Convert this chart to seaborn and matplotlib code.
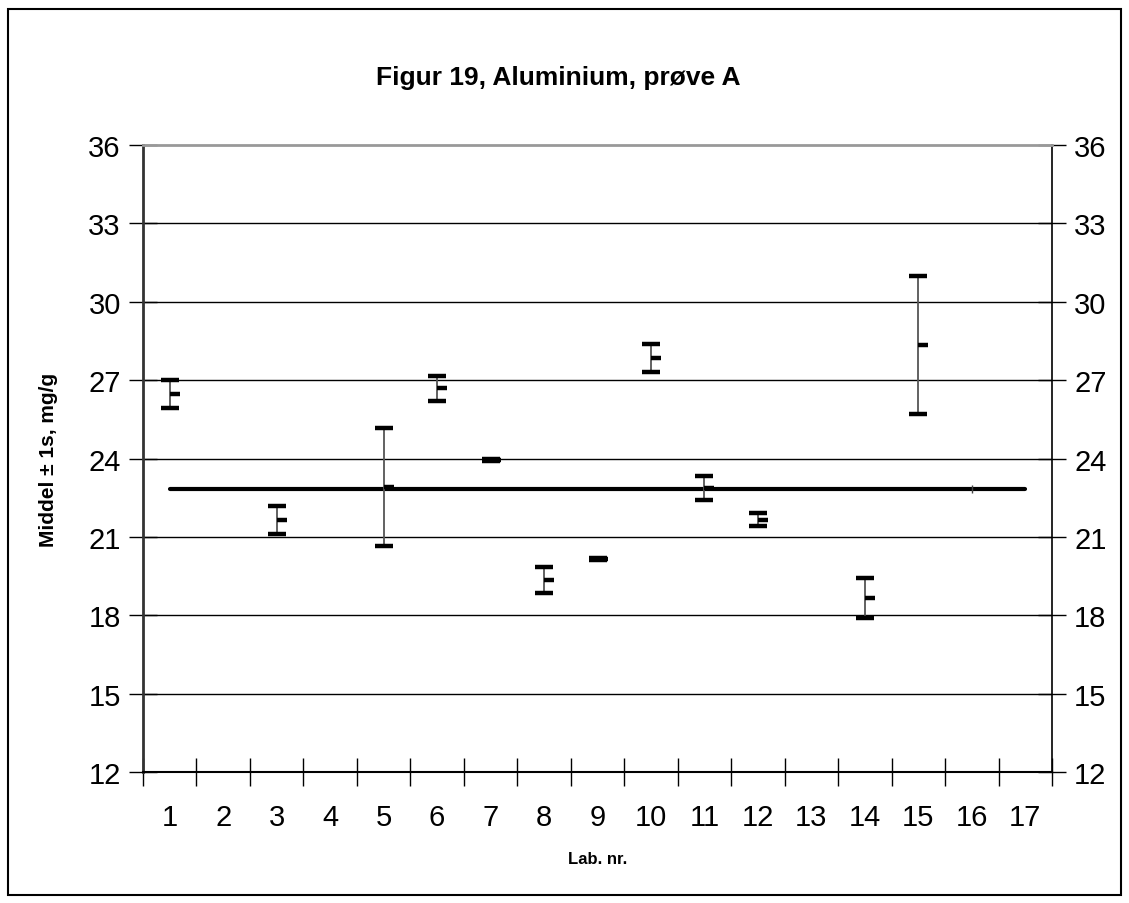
import matplotlib
matplotlib.use('Agg')
import matplotlib.pyplot as plt
from matplotlib.patches import Rectangle
import seaborn as sns
import pandas as pd

# lab numbers on the x axis
lab_labels = [str(i) for i in range(1, 18)]

# labs with a result, their mean and 1 s
labs = [1, 3, 5, 6, 7, 8, 9, 10, 11, 12, 14, 15, 16]
means = [26.47, 21.64, 22.90, 26.69, 23.94, 19.36, 20.15, 27.84, 22.87, 21.65, 18.65, 28.33, 22.83]
sds = [0.54, 0.53, 2.26, 0.47, 0.05, 0.50, 0.05, 0.53, 0.46, 0.25, 0.77, 2.64, 0.0]

# overall mean line
overall_mean = 22.83
y_ticks = [12, 15, 18, 21, 24, 27, 30, 33, 36]

df = pd.DataFrame({'lab': labs, 'mean': means, 'sd': sds})
df['lo'] = df['mean'] - df['sd']
df['hi'] = df['mean'] + df['sd']

sns.set_theme(style='white')
plt.rcParams['font.family'] = ['Liberation Sans', 'DejaVu Sans']
plt.rcParams['text.color'] = 'black'
plt.rcParams['axes.labelcolor'] = 'black'
plt.rcParams['xtick.color'] = 'black'
plt.rcParams['ytick.color'] = 'black'

fig = plt.figure(figsize=(11.29, 9.04), dpi=100)
ax = fig.add_axes([143 / 1129, 1 - 773 / 904, (1052 - 143) / 1129, (773 - 146) / 904])

# horizontal grid
for v in y_ticks[1:-1]:
    ax.axhline(v, color='black', lw=1.0, zorder=1)

# mean line across all labs
line_df = pd.DataFrame({'lab': [1, 17], 'val': [overall_mean, overall_mean]})
sns.lineplot(data=line_df, x='lab', y='val', ax=ax, color='black', lw=3.0,
             solid_capstyle='round', zorder=3)

# +-1s bars (lab 16 has no spread, only a small tick on the mean line)
bars = df[df['sd'] > 0]
ax.vlines(bars['lab'], bars['lo'], bars['hi'], color='#555555', lw=1.3, zorder=4)
ax.plot(bars['lab'], bars['hi'], ls='none', marker='_', ms=13, mew=3.2, color='black', zorder=5)
ax.plot(bars['lab'], bars['lo'], ls='none', marker='_', ms=13, mew=3.2, color='black', zorder=5)
ax.plot(bars['lab'], bars['mean'], ls='none', marker=1, ms=7, mew=3.2, color='black', zorder=5)
flat = df[df['sd'] == 0]
ax.plot(flat['lab'], flat['mean'], ls='none', marker='|', ms=6, mew=1, color='#444444', zorder=5)

ax.set_xlim(0.5, 17.5)
ax.set_ylim(12, 36)
ax.set_yticks(y_ticks)
ax.set_xticks(range(1, 18))
ax.set_xticklabels(lab_labels)
ax.set_xticks([i + 0.5 for i in range(0, 18)], minor=True)

ax.tick_params(axis='x', which='major', length=0, pad=22, labelsize=21)
ax.tick_params(axis='x', which='minor', direction='inout', length=20, width=1, color='black', bottom=True)
ax.tick_params(axis='y', which='major', direction='inout', length=20, width=1, color='black',
               left=True, right=True, labelleft=True, labelright=True, labelsize=21, pad=6)

for s in ['left', 'right', 'bottom', 'top']:
    ax.spines[s].set_visible(True)
ax.spines['left'].set_color('#333333')
ax.spines['left'].set_linewidth(2)
ax.spines['right'].set_color('black')
ax.spines['right'].set_linewidth(1.2)
ax.spines['bottom'].set_color('black')
ax.spines['bottom'].set_linewidth(1.5)
ax.spines['top'].set_color('#999999')
ax.spines['top'].set_linewidth(2)

ax.set_xlabel('Lab. nr.', fontsize=12, fontweight='bold', labelpad=15)
ax.set_ylabel('Middel ± 1s, mg/g', fontsize=15, fontweight='bold', labelpad=22)

fig.text(558 / 1129, 1 - 78 / 904, 'Figur 19, Aluminium, prøve A', ha='center', va='center',
         fontsize=19, fontweight='bold')

fig.patches.append(Rectangle((8 / 1129, 8 / 904), (1121 - 8) / 1129, (896 - 10) / 904,
                             transform=fig.transFigure, fill=False, edgecolor='black', lw=1.5))

fig.savefig('out.png', dpi=100)
